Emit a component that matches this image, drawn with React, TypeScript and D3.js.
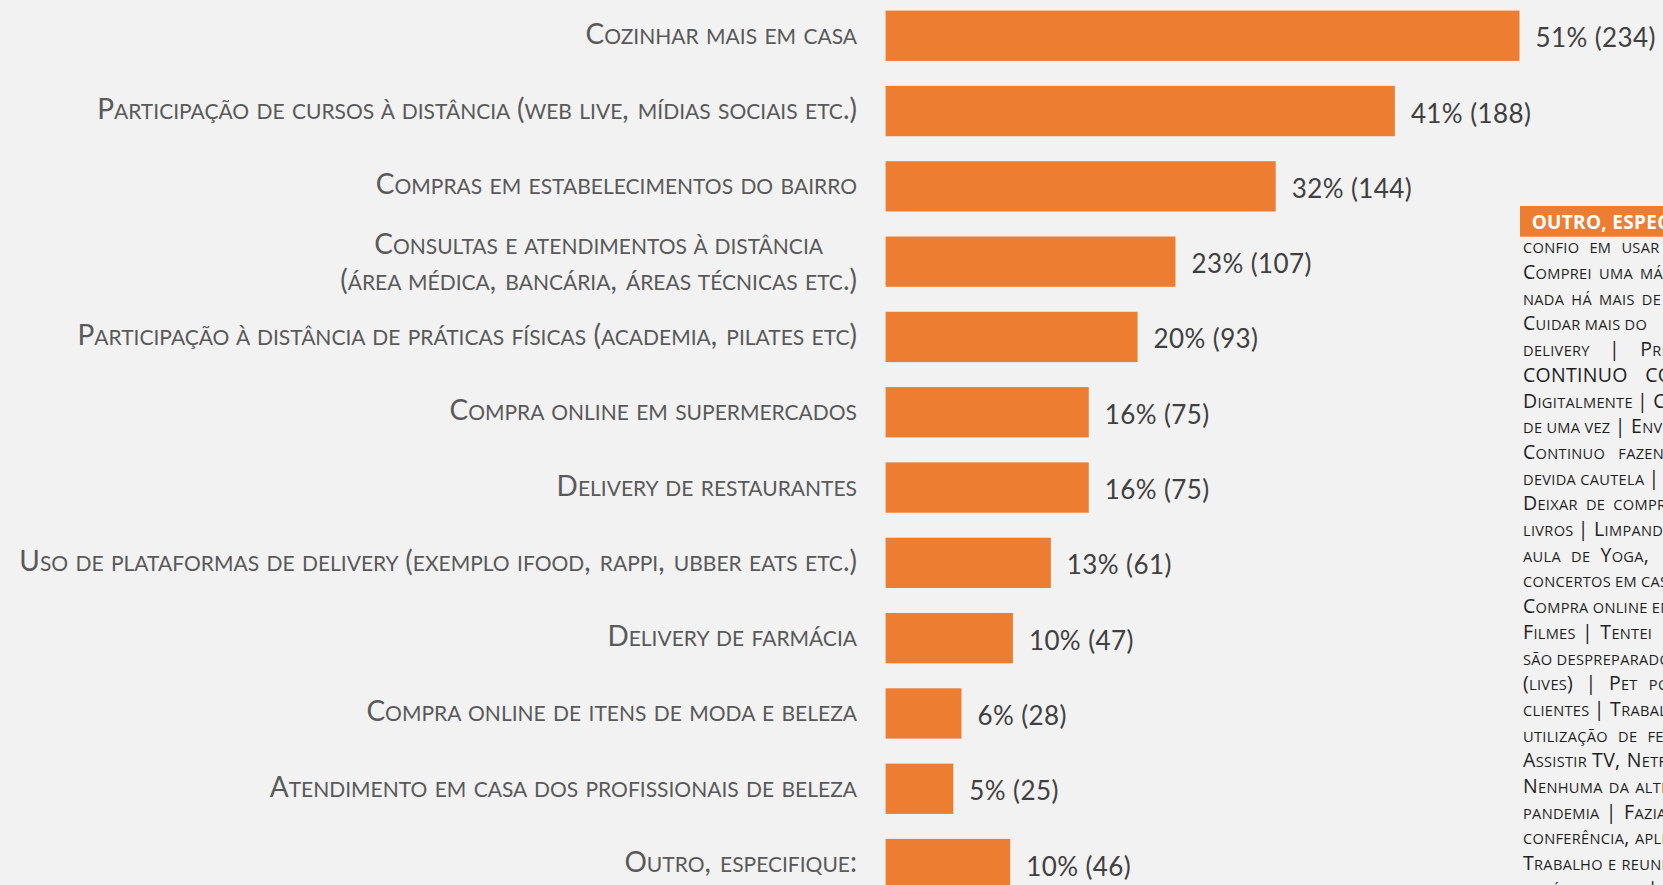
import React, { useEffect, useRef } from "react";
import * as d3 from "d3";

const categories = [
  "Cozinhar mais em casa",
  "Participação de cursos à distância (web live, mídias sociais etc.)",
  "Compras em estabelecimentos do bairro",
  "Consultas e atendimentos à distância\n(área médica, bancária, áreas técnicas etc.)",
  "Participação à distância de práticas físicas (academia, pilates etc)",
  "Compra online em supermercados",
  "Delivery de restaurantes",
  "Uso de plataformas de delivery (exemplo ifood, rappi, ubber eats etc.)",
  "Delivery de farmácia",
  "Compra online de itens de moda e beleza",
  "Atendimento em casa dos profissionais de beleza",
  "Outro, especifique:",
];
const counts = [234, 188, 144, 107, 93, 75, 75, 61, 47, 28, 25, 46];
const percents = [51, 41, 32, 23, 20, 16, 16, 13, 10, 6, 5, 10];

const otherTitle = "OUTRO, ESPECIFIQUE:";
const otherLines = [
  "confio em usar aplicativos",
  "Comprei uma máquina",
  "nada há mais de",
  "Cuidar mais do",
  "delivery | Preparo",
  "CONTINUO COMO",
  "Digitalmente | Compro",
  "de uma vez | Envio",
  "Continuo fazendo",
  "devida cautela |",
  "Deixar de comprar",
  "livros | Limpando",
  "aula de Yoga,",
  "concertos em casa",
  "Compra online em",
  "Filmes | Tentei",
  "são despreparados",
  "(lives) | Pet por",
  "clientes | Trabalho",
  "utilização de ferramentas",
  "Assistir TV, Netflix",
  "Nenhuma da alternativas",
  "pandemia | Fazia",
  "conferência, aplicativos",
  "Trabalho e reuniões",
  "família on line |",
];
// extra word spacing used to imitate the justified paragraph
const otherWordSpacing = [6, 3, 3, 0, 15, 12, 0, 0, 9, 0, 4, 0, 6, 0, 0, 2, 0, 7, 0, 6, 1, 2, 2, 0, 1, 0];

const W = 1663;
const H = 885;
const BG = "#f2f2f2";
const ORANGE = "#ed7d31";
const FONT = "Lato, 'Open Sans', sans-serif";
const BOX_FONT = "'Open Sans', Lato, sans-serif";

function smallCaps(sel: any, text: string, size: number, ratio: number) {
  const runs: { t: string; small: boolean }[] = [];
  for (const ch of text) {
    const isLower = ch !== ch.toUpperCase();
    const isSpace = ch === " ";
    const small = isSpace && runs.length ? runs[runs.length - 1].small : isLower;
    if (runs.length && runs[runs.length - 1].small === small) runs[runs.length - 1].t += ch;
    else runs.push({ t: ch, small });
  }
  runs.forEach((r) => {
    sel
      .append("tspan")
      .attr("font-size", r.small ? size * ratio : size)
      .text(r.small ? r.t.toUpperCase() : r.t);
  });
}

export default function App() {
  const ref = useRef<SVGSVGElement>(null);

  useEffect(() => {
    document.body.style.margin = "0";
    document.body.style.background = BG;
    const svg = d3.select(ref.current);
    svg.selectAll("*").remove();

    svg.append("rect").attr("width", W).attr("height", H).attr("fill", BG);

    const x = d3.scaleLinear().domain([0, 234]).range([885.6, 1519.5]);
    const y = d3
      .scaleBand<string>()
      .domain(categories)
      .range([-1.9, 901.7])
      .paddingInner(0.332)
      .paddingOuter(0.166);
    const bw = y.bandwidth();

    const g = svg.append("g");
    g.selectAll("rect.bar")
      .data(categories)
      .join("rect")
      .attr("class", "bar")
      .attr("x", x(0))
      .attr("y", (d) => y(d)!)
      .attr("width", (_d, i) => x(counts[i]) - x(0))
      .attr("height", bw)
      .attr("fill", ORANGE);

    // value labels
    g.selectAll("text.val")
      .data(categories)
      .join("text")
      .attr("class", "val")
      .attr("x", (_d, i) => x(counts[i]) + 16)
      .attr("y", (d) => y(d)! + bw / 2 + 11.5)
      .attr("font-family", FONT)
      .attr("font-size", 26)
      .attr("letter-spacing", 0.4)
      .attr("fill", "#404040")
      .text((_d, i) => `${percents[i]}% (${counts[i]})`);

    // category labels
    const labelX = x(0) - 28.6;
    const capSize = 28;
    const ratio = 0.75;
    categories.forEach((c) => {
      const cy = y(c)! + bw / 2;
      const lines = c.split("\n");
      const mk = (yy: number, anchor: string, xx: number) =>
        g
          .append("text")
          .attr("x", xx)
          .attr("y", yy)
          .attr("text-anchor", anchor)
          .attr("font-family", FONT)
          .attr("fill", "#595959")
          .style("word-spacing", "2px");
      if (lines.length === 1) {
        smallCaps(mk(cy + 8, "end", labelX), lines[0], capSize, ratio);
      } else {
        const t2 = mk(cy + 28.5, "end", labelX);
        smallCaps(t2, lines[1], capSize, ratio);
        const w2 = (t2.node() as SVGTextElement).getComputedTextLength();
        const t1 = mk(cy - 7.5, "middle", labelX - w2 / 2);
        smallCaps(t1, lines[0], capSize, ratio);
      }
    });

    // "Outro" text box on the right (clipped by the page edge)
    const box = svg.append("g");
    box
      .append("rect")
      .attr("x", 1520)
      .attr("y", 206)
      .attr("width", 300)
      .attr("height", 30.7)
      .attr("fill", ORANGE);
    box
      .append("text")
      .attr("x", 1531.7)
      .attr("y", 228.5)
      .attr("font-family", BOX_FONT)
      .attr("font-weight", 700)
      .attr("font-size", 19)
      .attr("letter-spacing", 0.3)
      .attr("fill", "#ffffff")
      .text(otherTitle);

    otherLines.forEach((line, i) => {
      const t = box
        .append("text")
        .attr("x", 1523)
        .attr("y", 253.3 + i * 25.7)
        .attr("font-family", BOX_FONT)
        .attr("letter-spacing", 0.3)
        .attr("fill", "#1f1f1f")
        .style("word-spacing", `${otherWordSpacing[i]}px`);
      smallCaps(t, line, 19.5, 0.75);
    });
  }, []);

  return (
    <svg
      ref={ref}
      width={W}
      height={H}
      style={{ display: "block", position: "absolute", left: 0, top: 0 }}
    />
  );
}
